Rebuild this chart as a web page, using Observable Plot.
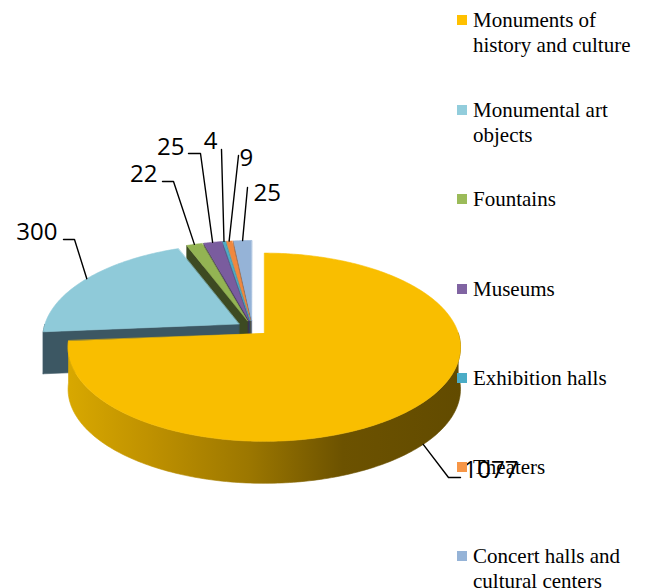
<!DOCTYPE html>
<html><head><meta charset="utf-8">
<script src="https://cdn.jsdelivr.net/npm/d3@7"></script>
<script src="https://cdn.jsdelivr.net/npm/@observablehq/plot@0.6"></script>
<style>
html,body{margin:0;padding:0;background:#fff;}
#wrap{position:relative;width:649px;height:588px;overflow:hidden;}
#legend{position:absolute;left:0;top:0;width:649px;height:588px;font-family:"Liberation Serif","Times New Roman",Tinos,Times,"DejaVu Serif","Noto Serif",serif;font-size:21px;line-height:25px;color:#000;pointer-events:none;}
.item{position:absolute;left:473px;white-space:nowrap;font-family:inherit;}
.sw{position:absolute;left:-16px;top:7px;width:10px;height:10px;}
</style></head><body><div id="wrap"></div>
<script>
// ---- data ----
const categories = ["Monuments of history and culture","Monumental art objects","Fountains","Museums","Exhibition halls","Theaters","Concert halls and cultural centers"];
const legendLines = [["Monuments of","history and culture"],["Monumental art","objects"],["Fountains"],["Museums"],["Exhibition halls"],["Theaters"],["Concert halls and","cultural centers"]];
const values = [1077,300,22,25,4,9,25];
const labels = ["1077","300","22","25","4","9","25"];
// ---- styles ----
const colors = ["#F9BE00","#8FCAD9","#93B453","#7A5C9E","#4BACC6","#F0883E","#95B3D7"];
const legendColors = ["#FFC000","#92CDDC","#9BBB59","#8064A2","#4BACC6","#F79646","#95B3D7"];
const sideColors = ["url(#ySide)","#3C5763","#3D4A22","#3F3057","#245766","#7B4B23","#4B5A6E"];
// ---- layout ----
const geom = {cx:252, cy:327.5, R:194, RY:92, p:0.15, depth:42, explode:16, k:0.47};
const leaderLayout = [
 {elbow:[448,477], end:[460,477], text:[463,477], anchor:"start", bottom:true},
 {elbow:[74,239], end:[63,239], text:[57,239], anchor:"end"},
 {elbow:[173,181], end:[162,181], text:[157,181], anchor:"end"},
 {elbow:[200,153], end:[188,153], text:[184,154], anchor:"end"},
 {elbow:[221,149], end:[221,149], text:[217,148], anchor:"end"},
 {elbow:[238,155], end:[238,155], text:[239,165], anchor:"start"},
 {elbow:[247,187], end:[247,187], text:[253,200], anchor:"start"}
];
const legendY = [20,110,199,289,378,467,556];

const arcs = d3.pie().sort(null).startAngle(0).endAngle(2*Math.PI)(values);

function proj(ax, ay, phi, r, z) {
  const u = Math.sin(phi)*r, v = -Math.cos(phi)*r;
  const s = 1/(1 - geom.p*v);
  return [ax + geom.R*u*s, ay + geom.RY*v*s + z];
}
function apex(a) {
  const mid = (a.startAngle + a.endAngle)/2;
  return [geom.cx + geom.explode*Math.sin(mid), geom.cy - geom.explode*Math.cos(mid)*geom.k];
}
function arcPts(ax, ay, a0, a1, z) {
  const n = Math.max(2, Math.ceil((a1 - a0)/(Math.PI/180)));
  const pts = [];
  for (let j = 0; j <= n; j++) pts.push(proj(ax, ay, a0 + (a1 - a0)*j/n, 1, z));
  return pts;
}

const faceRows = [];
let fid = 0;
function addFace(pts, fill) {
  const id = fid++;
  for (const [x, y] of pts) faceRows.push({face: id, x, y, fill});
}
const D = geom.depth;
for (let i = arcs.length - 1; i >= 0; i--) {
  const a = arcs[i];
  const [ax, ay] = apex(a);
  const a0 = a.startAngle, a1 = a.endAngle;
  if (-Math.sin(a0) > 0.01) {
    const t = proj(ax, ay, a0, 1, 0), b = proj(ax, ay, a0, 1, D);
    addFace([[ax, ay], t, b, [ax, ay + D]], sideColors[i]);
  }
  if (Math.sin(a1) > 0.01) {
    const t = proj(ax, ay, a1, 1, 0), b = proj(ax, ay, a1, 1, D);
    addFace([[ax, ay], t, b, [ax, ay + D]], sideColors[i]);
  }
  const s0 = Math.max(a0, Math.PI/2), s1 = Math.min(a1, 3*Math.PI/2);
  if (s1 > s0) {
    const top = arcPts(ax, ay, s0, s1, 0), bot = arcPts(ax, ay, s0, s1, D).reverse();
    addFace(top.concat(bot), sideColors[i]);
  }
  addFace([[ax, ay]].concat(arcPts(ax, ay, a0, a1, 0)), colors[i]);
}

const leaderRows = [];
const labelRows = [];
arcs.forEach((a, i) => {
  const [ax, ay] = apex(a);
  const mid = (a.startAngle + a.endAngle)/2;
  const L = leaderLayout[i];
  const start = proj(ax, ay, mid, 1, L.bottom ? D : 0);
  [start, L.elbow, L.end].forEach(([x, y]) => leaderRows.push({id: i, x, y}));
  labelRows.push({x: L.text[0], y: L.text[1], text: labels[i], anchor: L.anchor});
});

const textOpts = {x: "x", y: "y", text: "text", lineAnchor: "bottom", fontSize: 24, fontFamily: "'Open Sans', 'Liberation Sans', sans-serif", fill: "#000"};
const chart = Plot.plot({
  width: 649, height: 588, margin: 0,
  x: {type: "identity", axis: null},
  y: {type: "identity", axis: null},
  color: {type: "identity"},
  marks: [
    Plot.line(faceRows, {x: "x", y: "y", z: "face", fill: "fill", stroke: "fill", strokeWidth: 0.6, curve: "linear-closed"}),
    Plot.line(leaderRows, {x: "x", y: "y", z: "id", stroke: "#000", strokeWidth: 1.4}),
    Plot.text(labelRows.filter(d => d.anchor === "start"), {...textOpts, textAnchor: "start"}),
    Plot.text(labelRows.filter(d => d.anchor === "end"), {...textOpts, textAnchor: "end"})
  ]
});
const defs = d3.select(chart).insert("defs", ":first-child");
const g = defs.append("linearGradient").attr("id", "ySide").attr("x1", 0).attr("x2", 1).attr("y1", 0).attr("y2", 0);
[[0, "#D8A800"], [0.2, "#C09200"], [0.46, "#9C7700"], [0.7, "#6C5200"], [1, "#624B00"]].forEach(([o, c]) => g.append("stop").attr("offset", o).attr("stop-color", c));

const wrap = document.getElementById("wrap");
wrap.appendChild(chart);
const legend = document.createElement("div");
legend.id = "legend";
categories.forEach((c, i) => {
  const it = document.createElement("div");
  it.className = "item";
  it.style.top = (legendY[i] - 12.5) + "px";
  it.innerHTML = `<span class="sw" style="background:${legendColors[i]}"></span>` + legendLines[i].join("<br>");
  legend.appendChild(it);
});
wrap.appendChild(legend);
</script></body></html>
